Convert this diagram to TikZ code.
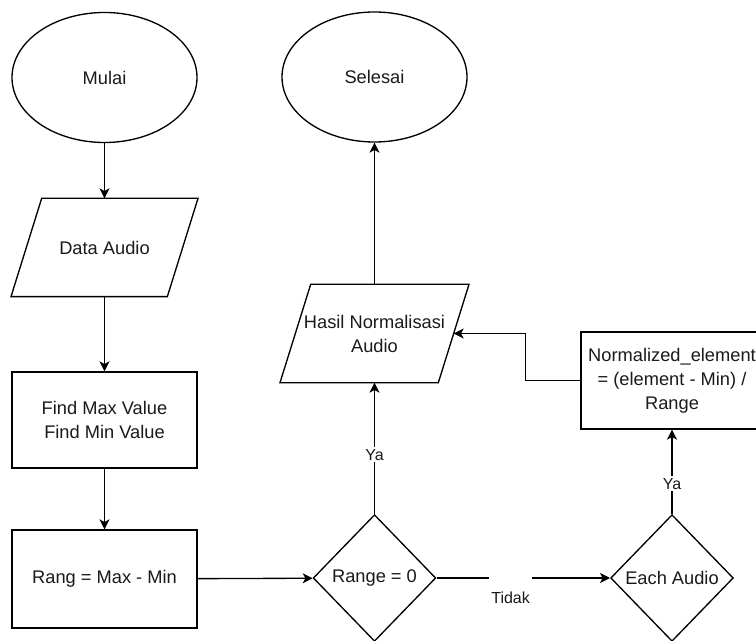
\documentclass[tikz,border=0pt]{standalone}
\usepackage{fontspec}
\setmainfont{Liberation Sans}
\usepackage{tikz}
\usetikzlibrary{shapes.geometric,arrows.meta}
\definecolor{ink}{HTML}{000000}
\definecolor{txt}{HTML}{1A1A1A}
\tikzset{
  base/.style={draw=ink, line width=1pt, fill=white, align=center, text=txt, font=\fontsize{13.7}{18}\selectfont, inner sep=0pt},
  term/.style={base, ellipse, minimum width=138.75pt, minimum height=97.5pt},
  io/.style={base, draw=none, fill=none, rectangle, minimum height=72.75pt},
  frame/.style={draw=ink, line width=1pt, line join=miter},
  proc/.style={base, rectangle, minimum width=138.75pt, minimum height=72pt},
  cond/.style={base, diamond, minimum width=92pt, minimum height=95pt},
  flow/.style={draw=ink, line width=1pt, -{Stealth[length=7.5pt,width=7.5pt,inset=2pt]}},
  lab/.style={fill=white, text=txt, font=\fontsize{12}{14}\selectfont, inner sep=1.5pt},
}
% slanted outline round an io node
\newcommand\ioframe[1]{%
  \draw[frame] ([xshift=11.5pt]#1.north west) -- ([xshift=11.5pt]#1.north east)
    -- ([xshift=-11.5pt]#1.south east) -- ([xshift=-11.5pt]#1.south west) -- cycle;}
\begin{document}
\begin{tikzpicture}[x=0.75pt, y=-0.75pt]
  \useasboundingbox (0,0) rectangle (756,641);

  % left column
  \node[term] (mulai) at (104.5,77.5) {Mulai};
  \node[io, minimum width=116.25pt] (data) at (104.5,247.5) {Data Audio};
  \node[proc] (find) at (104.5,420) {Find Max Value\\Find Min Value};
  \node[proc, minimum height=73.5pt] (rang) at (104.5,579) {Rang = Max - Min};
  \ioframe{data}

  % middle column
  \node[cond] (range) at (374.5,578) {Range = 0};
  \node[io, minimum width=117.75pt] (hasil) at (374.5,333.5) {Hasil Normalisasi\\Audio};
  \node[term] (selesai) at (374.5,77) {Selesai};
  \ioframe{hasil}

  % right column
  \node[cond] (each) at (672,578) {Each Audio};
  \node[proc, minimum width=136.5pt, minimum height=72.75pt] (norm) at (672,380.5) {Normalized\_element\\= (element - Min) /\\Range};

  \draw[flow] (mulai) -- (data);
  \draw[flow] (data) -- (find);
  \draw[flow] (find) -- (rang);
  \draw[flow] (rang) -- (range);
  \draw[flow] (range) -- node[lab, pos=0.45] {Ya} (hasil);
  \draw[flow] (hasil) -- (selesai);
  \draw[flow] (range) -- node[lab, pos=0.427, anchor=north, yshift=1.5pt, inner ysep=0pt, text height=20pt] {Tidak} (each);
  \draw[flow] (each) -- node[lab, pos=0.36] {Ya} (norm);
  \draw[flow] (norm.west) -- ++(-55,0) |- (hasil.east);
\end{tikzpicture}
\end{document}
